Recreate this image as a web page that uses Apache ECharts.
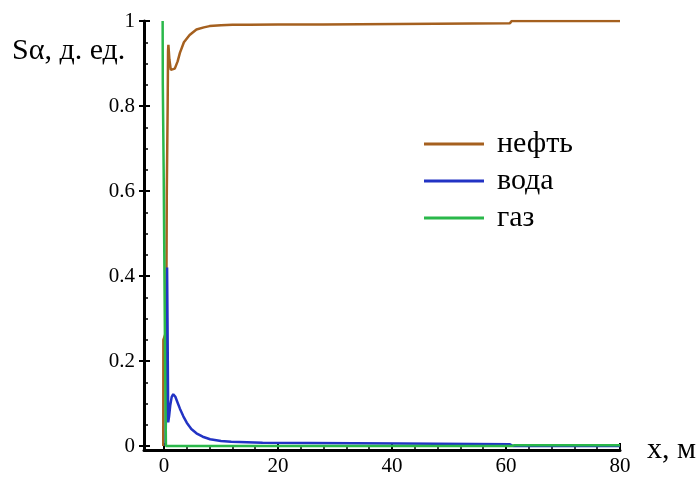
<!DOCTYPE html>
<html>
<head>
<meta charset="utf-8">
<script src="https://cdn.jsdelivr.net/npm/echarts@6/dist/echarts.min.js"></script>
<style>
  html, body { margin: 0; padding: 0; background: #fff; }
  #chart { width: 700px; height: 477px; }
</style>
</head>
<body>
<div id="chart"></div>
<script>
// saturation profiles along x (m)
var oilX = [-0.12, -0.1, 0.4, 0.5, 0.65, 0.72, 0.78, 0.95, 1.2, 1.5, 1.9, 2.4, 2.8, 3.5, 4.5, 5.7, 7, 8, 10, 12, 15, 20, 27.9, 28.1, 60.7, 61, 80];
var oilY = [0, 0.25, 0.27, 0.6, 0.8, 0.93, 0.944, 0.91, 0.885, 0.882, 0.888, 0.905, 0.925, 0.95, 0.967, 0.98, 0.985, 0.988, 0.99, 0.991, 0.991, 0.992, 0.992, 0.995, 0.995, 1.0, 1.0];

var waterX = [0.3, 0.55, 0.62, 0.7, 0.75, 0.9, 1.1, 1.35, 1.63, 2.0, 2.4, 2.8, 3.4, 4.0, 4.8, 5.7, 6.8, 8.1, 10, 11.8, 12, 17.3, 17.5, 41.3, 41.5, 60.7, 61.2, 80];
var waterY = [0, 0.42, 0.3, 0.15, 0.056, 0.07, 0.095, 0.115, 0.122, 0.116, 0.102, 0.088, 0.07, 0.055, 0.04, 0.03, 0.022, 0.016, 0.012, 0.010, 0.009, 0.0075, 0.006, 0.006, 0.004, 0.004, 0, 0];

var gasX = [-0.23, -0.2, -0.05, 0.2, 0.35, 61, 61.5, 80];
var gasY = [1, 0.85, 0.65, 0.2, 0, 0, 0.002, 0.002];

var seriesNames = ["нефть", "вода", "газ"];
var seriesColors = ["#a5601f", "#2233c4", "#2ab84a"];

var xMajor = [0, 20, 40, 60, 80];
var xMinor = [4, 8, 12, 16, 24, 28, 32, 36, 44, 48, 52, 56, 64, 68, 72, 76];
var yMajor = [0, 0.2, 0.4, 0.6, 0.8, 1];
var yMinor = [0.05, 0.1, 0.15, 0.25, 0.3, 0.35, 0.45, 0.5, 0.55, 0.65, 0.7, 0.75, 0.85, 0.9, 0.95];

var FONT = "'Liberation Serif', 'Times New Roman', serif";

function zip(xs, ys) {
  var out = [];
  for (var i = 0; i < xs.length; i++) out.push([xs[i], ys[i]]);
  return out;
}

var chart = echarts.init(document.getElementById("chart"));

var xBase = { type: "value", min: -3.5, max: 80, gridIndex: 0, position: "bottom", splitLine: { show: false } };
var yBase = { type: "value", min: -0.0093, max: 1, gridIndex: 0, position: "left", splitLine: { show: false } };

var option = {
  animation: false,
  backgroundColor: "#fff",
  grid: { left: 144, right: 80, top: 21, bottom: 22 },
  legend: {
    orient: "vertical",
    left: 424,
    top: 129,
    padding: 0,
    icon: "rect",
    itemWidth: 60,
    itemHeight: 3,
    itemGap: 7,
    textStyle: { fontFamily: FONT, fontSize: 30, lineHeight: 30, color: "#000", padding: [0, 0, 0, 8] },
    data: seriesNames
  },
  graphic: [{
    type: "text",
    left: 12,
    top: 36,
    style: { text: "Sα, д. ед.", fontFamily: FONT, fontSize: 30, fill: "#000" }
  }],
  xAxis: [
    Object.assign({}, xBase, {
      axisLine: { onZero: false, lineStyle: { color: "#000", width: 3 } },
      axisTick: { inside: true, length: 7, customValues: xMajor, lineStyle: { color: "#000", width: 2 } },
      axisLabel: { customValues: xMajor, margin: 6, fontFamily: FONT, fontSize: 21, color: "#000" },
      name: "x, м",
      nameLocation: "end",
      nameGap: 27,
      nameTextStyle: { fontFamily: FONT, fontSize: 30, color: "#000", verticalAlign: "middle", padding: [0, 0, 14, 0] }
    }),
    Object.assign({}, xBase, {
      axisLine: { show: false, onZero: false },
      axisTick: { inside: true, length: 4, customValues: xMinor, lineStyle: { color: "#000", width: 1.5 } },
      axisLabel: { show: false }
    })
  ],
  yAxis: [
    Object.assign({}, yBase, {
      axisLine: { onZero: false, lineStyle: { color: "#000", width: 3 } },
      axisTick: { inside: false, length: 5, customValues: yMajor, lineStyle: { color: "#000", width: 2 } },
      axisLabel: {
        customValues: yMajor, margin: 9, fontFamily: FONT, fontSize: 21, color: "#000",
        formatter: function (v) { return String(+v.toFixed(2)); }
      }
    }),
    Object.assign({}, yBase, {
      axisLine: { show: false, onZero: false },
      axisTick: { inside: true, length: 6, customValues: yMajor, lineStyle: { color: "#000", width: 2 } },
      axisLabel: { show: false }
    }),
    Object.assign({}, yBase, {
      axisLine: { show: false, onZero: false },
      axisTick: { inside: true, length: 4, customValues: yMinor, lineStyle: { color: "#000", width: 1.5 } },
      axisLabel: { show: false }
    })
  ],
  series: [
    { name: seriesNames[0], type: "line", data: zip(oilX, oilY), color: seriesColors[0] },
    { name: seriesNames[1], type: "line", data: zip(waterX, waterY), color: seriesColors[1] },
    { name: seriesNames[2], type: "line", data: zip(gasX, gasY), color: seriesColors[2] }
  ].map(function (s) {
    s.xAxisIndex = 0;
    s.yAxisIndex = 0;
    s.showSymbol = false;
    s.symbol = "none";
    s.lineStyle = { width: 2.5, color: s.color };
    return s;
  })
};

chart.setOption(option);
</script>
</body>
</html>
